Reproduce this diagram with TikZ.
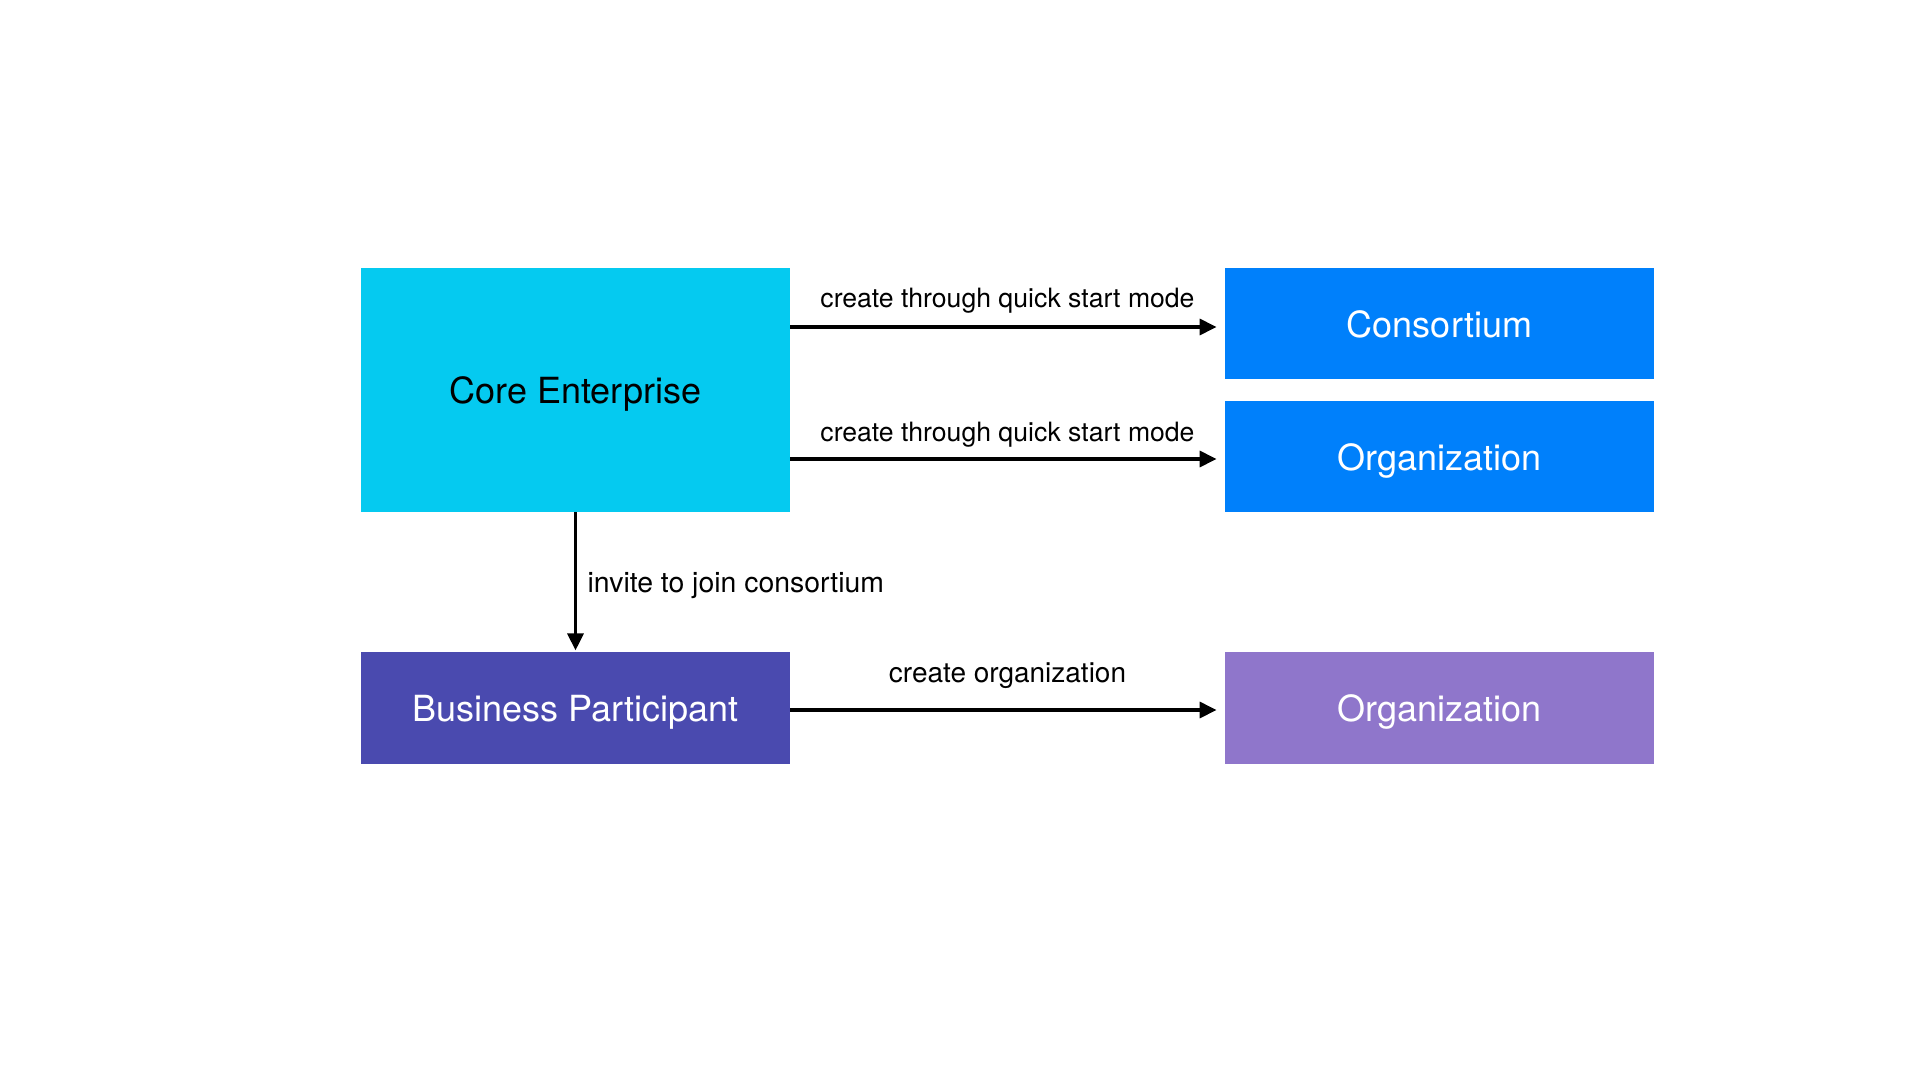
\documentclass[tikz,border=0pt]{standalone}
\usepackage{fontspec}
\setmainfont{TeX Gyre Heros}
\usetikzlibrary{arrows.meta}
\definecolor{cecyan}{RGB}{5,202,240}
\definecolor{cblue}{RGB}{0,128,251}
\definecolor{bpindigo}{RGB}{74,74,175}
\definecolor{orgpurple}{RGB}{143,118,203}
\tikzset{
  box/.style={rectangle, draw=none, inner sep=0pt, minimum width=214.5pt, text height=17.5pt, text depth=4pt, font=\fontsize{18}{21}\selectfont},
  flow/.style={line width=1.6pt, -{Triangle[length=8.5pt,width=8pt]}},
  lbl/.style={anchor=base, inner sep=0pt, font=\fontsize{13.3}{16}\selectfont},
}
\begin{document}
\begin{tikzpicture}[x=0.5pt,y=-0.5pt]
\useasboundingbox (0,0) rectangle (1920,1080);
\node[box, fill=cecyan, minimum height=122pt, text=black] (ce) at (575.5,390) {Core Enterprise};
\node[box, fill=cblue, minimum height=55.5pt, text=white] (cons) at (1439.5,323.5) {Consortium};
\node[box, fill=cblue, minimum height=55.5pt, text=white] (org1) at (1439.5,456.5) {Organization};
\node[box, fill=bpindigo, minimum height=56pt, text=white] (bp) at (575.5,708) {Business Participant};
\node[box, fill=orgpurple, minimum height=56pt, text=white] (org2) at (1439.5,708) {Organization};
\coordinate (t1) at ([yshift=-1.75pt]cons.west);
\coordinate (t2) at ([yshift=-1.25pt]org1.west);
\coordinate (t3) at ([yshift=-1pt]org2.west);
\coordinate (s3) at ([yshift=-1pt]bp.east);
\draw[flow, shorten >=4pt] (ce.east |- t1) -- (t1)
  node[lbl, midway, yshift=9.5pt] (l1) {create through quick start mode};
\draw[flow, shorten >=4pt] (ce.east |- t2) -- (t2)
  node[lbl, midway, yshift=9pt] (l2) {create through quick start mode};
\draw[flow, shorten >=0.6pt] (ce.south) -- (bp.north)
  node[lbl, pos=0.579, anchor=base west, xshift=5.25pt, font=\fontsize{14.2}{17}\selectfont] (l3) {invite to join consortium};
\draw[flow, shorten >=4pt] (s3) -- (t3)
  node[lbl, midway, yshift=14pt, font=\fontsize{14}{17}\selectfont] (l4) {create organization};
\end{tikzpicture}
\end{document}
